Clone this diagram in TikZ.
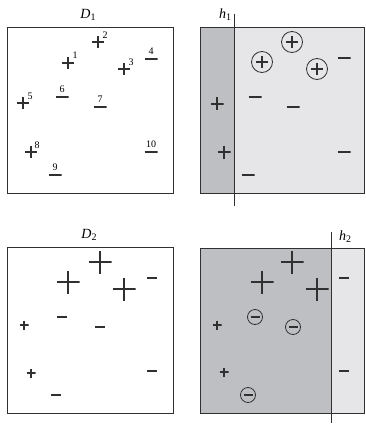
\documentclass[tikz,border=0pt]{standalone}
\usepackage{fontspec}
\setmainfont{Liberation Serif}
\usetikzlibrary{calc}
\definecolor{ink}{HTML}{303030}
\definecolor{darkfill}{HTML}{BEBFC3}
\definecolor{lightfill}{HTML}{E6E6E8}
\tikzset{
  mk/.style={line width=1.05pt, draw=ink},
  pm/.style={minimum size=#1, inner sep=0pt, outer sep=0pt,
    path picture={\draw[mk] (path picture bounding box.north) -- (path picture bounding box.south)
      (path picture bounding box.west) -- (path picture bounding box.east);}},
  mm/.style={minimum width=#1, minimum height=3pt, inner sep=0pt, outer sep=0pt,
    path picture={\draw[mk] (path picture bounding box.west) -- (path picture bounding box.east);}},
  cpm/.style={circle, draw=ink, line width=0.8pt, minimum size=21pt, inner sep=0pt,
    path picture={\draw[mk] ($(path picture bounding box.center)+(0,-6)$) -- ($(path picture bounding box.center)+(0,6)$)
      ($(path picture bounding box.center)+(-6,0)$) -- ($(path picture bounding box.center)+(6,0)$);}},
  cmm/.style={circle, draw=ink, line width=0.8pt, minimum size=15pt, inner sep=0pt,
    path picture={\draw[mk] ($(path picture bounding box.center)+(-4.5,0)$) -- ($(path picture bounding box.center)+(4.5,0)$);}},
  boxframe/.style={draw=ink, line width=0.9pt, minimum width=166pt, minimum height=166pt, inner sep=0pt},
  num/.style={font=\fontsize{10}{10}\selectfont, inner sep=0pt},
  ttl/.style={font=\fontsize{14}{14}\selectfont, inner sep=0pt},
  hline/.style={draw=ink, line width=1pt},
}
\newcommand{\lab}[2]{\textit{#1}\raisebox{-0.3ex}{\fontsize{10}{10}\selectfont #2}}
\begin{document}
\begin{tikzpicture}[x=1pt,y=-1pt]
\useasboundingbox (0,0) rectangle (365,425);
% ---------- D1 ----------
\node[boxframe] (A) at (90,110) {};
\node[ttl] (tA) at (88,15) {\lab{D}{1}};
\node[pm=12pt] (a1) at (68,63) {};  \node[num] (n1) at (75,55) {1};
\node[pm=12pt] (a2) at (98,42) {};  \node[num] (n2) at (105,35) {2};
\node[pm=12pt] (a3) at (124,69) {}; \node[num] (n3) at (131,62) {3};
\node[mm=13pt] (a4) at (151,59) {}; \node[num] (n4) at (151,51) {4};
\node[pm=12pt] (a5) at (23,103) {}; \node[num] (n5) at (30,96) {5};
\node[mm=13pt] (a6) at (62,97) {};  \node[num] (n6) at (62,89) {6};
\node[mm=13pt] (a7) at (100,107) {}; \node[num] (n7) at (100,99) {7};
\node[pm=12pt] (a8) at (31,152) {}; \node[num] (n8) at (37,145) {8};
\node[mm=13pt] (a9) at (55,175) {}; \node[num] (n9) at (55,167) {9};
\node[mm=13pt] (a10) at (151,152) {}; \node[num] (n10) at (151,144) {10};
% ---------- h1 ----------
\fill[darkfill] (200,27) rectangle (234,193);
\fill[lightfill] (234,27) rectangle (364,193);
\node[boxframe, minimum width=164pt] (B) at (282,110) {};
\coordinate (h1t) at (234,14);
\coordinate (h1b) at (234,206);
\draw[hline] (h1t) -- (h1b);
\node[ttl] (tB) at (225,15) {\lab{h}{1}};
\node[cpm] (b2) at (292,42) {};
\node[cpm] (b1) at (262,62) {};
\node[cpm] (b3) at (317,69) {};
\node[mm=13pt] (b4) at (344,58) {};
\node[mm=13pt] (b6) at (255,97) {};
\node[mm=13pt] (b7) at (293,107) {};
\node[pm=13pt] (b5) at (217,104) {};
\node[pm=13pt] (b8) at (224,152) {};
\node[mm=13pt] (b10) at (344,152) {};
\node[mm=13pt] (b9) at (248,175) {};
% ---------- D2 ----------
\node[boxframe] (C) at (90,330.5) {};
\node[ttl] (tC) at (89,235) {\lab{D}{2}};
\node[pm=23pt] (c2) at (100,262) {};
\node[pm=23pt] (c1) at (68,282) {};
\node[pm=23pt] (c3) at (124,289) {};
\node[mm=10pt] (c4) at (152,278) {};
\node[mm=10pt] (c6) at (62,317) {};
\node[mm=10pt] (c7) at (100,327) {};
\node[pm=9pt] (c5) at (24,325) {};
\node[pm=9pt] (c8) at (31,373) {};
\node[mm=10pt] (c10) at (152,371) {};
\node[mm=10pt] (c9) at (56,395) {};
% ---------- h2 ----------
\fill[darkfill] (200,248) rectangle (331,413);
\fill[lightfill] (331,248) rectangle (364,413);
\node[boxframe, minimum width=164pt, minimum height=165pt] (E) at (282,330.5) {};
\coordinate (h2t) at (331,232);
\coordinate (h2b) at (331,423);
\draw[hline] (h2t) -- (h2b);
\node[ttl] (tE) at (345,237) {\lab{h}{2}};
\node[pm=23pt] (e2) at (292,262) {};
\node[pm=23pt] (e1) at (262,282) {};
\node[pm=23pt] (e3) at (317,289) {};
\node[mm=10pt] (e4) at (344,278) {};
\node[cmm] (e6) at (255,317) {};
\node[cmm] (e7) at (293,327) {};
\node[cmm] (e9) at (248,395) {};
\node[pm=9pt] (e5) at (217,325) {};
\node[pm=9pt] (e8) at (224,372) {};
\node[mm=10pt] (e10) at (344,371) {};
\end{tikzpicture}
\end{document}
